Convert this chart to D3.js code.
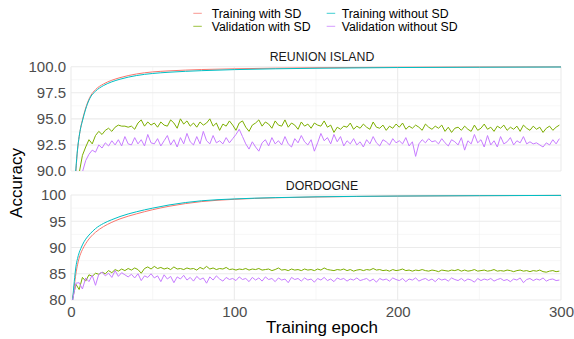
<!DOCTYPE html>
<html>
<head>
<meta charset="utf-8">
<script src="https://cdn.jsdelivr.net/npm/d3@7"></script>
<style>
  html, body { margin: 0; padding: 0; background: #ffffff; }
  svg { display: block; font-family: "Liberation Sans", Arial, Helvetica, sans-serif; }
</style>
</head>
<body>
<svg id="chart" width="574" height="339"></svg>
<script>
// ---------------- DATA ----------------
const seriesNames = ["Training with SD", "Validation with SD", "Training without SD", "Validation without SD"];
const seriesColors = ["#F8766D", "#7CAE00", "#00BFC4", "#C77CFF"];
const panelNames = ["REUNION ISLAND", "DORDOGNE"];

const xTicks = [0, 100, 200, 300];
const yTicksReunion = [90, 92.5, 95, 97.5, 100];
const yTicksDordogne = [80, 85, 90, 95, 100];

// training curves sampled at these epochs
const trainEpochs = [1, 2, 3, 4, 5, 6, 7, 8, 10, 12, 15, 20, 25, 30, 40, 50, 60, 80, 100, 125, 150, 200, 250, 300];
const reunionTrainSD =   [84.0, 87.5, 90.0, 92.0, 93.3, 94.2, 94.9, 95.5, 96.5, 97.2, 97.8, 98.35, 98.7, 98.95, 99.3, 99.5, 99.6, 99.73, 99.8, 99.86, 99.9, 99.95, 99.97, 99.98];
const reunionTrainNoSD = [84.2, 87.8, 90.2, 92.1, 93.3, 94.2, 94.8, 95.4, 96.4, 97.1, 97.65, 98.2, 98.55, 98.8, 99.15, 99.35, 99.47, 99.62, 99.72, 99.8, 99.85, 99.92, 99.95, 99.97];
const dordogneTrainSD =   [80.0, 82.6, 85.0, 86.7, 88.0, 88.9, 89.6, 90.2, 91.2, 92.0, 92.9, 94.0, 94.8, 95.45, 96.4, 97.2, 97.85, 98.75, 99.18, 99.47, 99.62, 99.79, 99.87, 99.92];
const dordogneTrainNoSD = [80.0, 83.5, 86.3, 87.9, 89.0, 89.8, 90.5, 91.1, 92.0, 92.7, 93.6, 94.6, 95.3, 95.9, 96.8, 97.5, 98.1, 98.9, 99.25, 99.5, 99.65, 99.8, 99.87, 99.92];

// validation curves at epochs 1, 3, 5, ..., 299
const reunionValSD = [85,88,89.8,91.5,92.3,93.0,92.6,93.4,93.8,93.5,93.9,94.1,93.8,94.2,94.4,94.3,94.3,94.2,94.3,94.0,
94.6,94.9,94.3,94.7,94.4,94.6,94.2,94.7,94.4,94.3,94.9,94.6,94.1,95.0,94.5,94.8,94.3,94.6,94.2,94.7,
94.4,94.6,95.0,94.3,94.6,93.9,94.5,94.3,94.8,94.4,93.9,94.6,94.8,94.2,93.8,94.4,94.6,94.9,94.3,94.7,
94.5,94.1,94.8,94.4,94.3,94.9,94.2,94.6,94.4,94.0,94.7,94.3,94.5,94.1,94.6,94.4,94.3,94.8,94.2,94.4,
93.7,94.2,94.0,94.3,94.2,94.6,94.0,94.3,94.1,94.5,94.2,94.0,94.7,94.2,94.1,94.4,93.9,94.3,94.1,94.5,
94.2,94.6,94.0,94.3,94.1,94.4,94.2,93.9,94.5,94.2,94.0,94.3,94.1,94.4,93.8,94.2,93.7,94.1,94.2,93.9,
94.3,94.0,93.8,94.4,93.9,94.1,94.5,94.0,94.2,93.8,94.3,94.1,94.4,93.9,94.2,94.0,94.3,93.8,94.4,94.1,
93.9,94.3,94.0,94.2,93.7,94.1,94.3,93.9,94.2,94.4];
const reunionValNoSD = [84,86.5,88.5,89.9,91.0,91.6,92.0,91.8,92.5,92.2,92.7,92.4,92.9,92.5,93.0,92.4,93.3,92.6,92.5,93.2,
92.6,93.0,92.4,93.5,92.7,92.6,93.1,92.4,92.9,93.4,92.5,93.0,92.3,93.2,92.6,93.6,92.8,92.5,93.3,92.6,
93.8,92.9,92.6,93.4,92.7,92.9,92.6,93.2,92.7,93.1,93.5,94.0,93.3,92.6,92.1,92.8,92.3,91.9,92.7,93.0,
92.4,93.2,92.6,92.9,92.5,93.3,92.6,92.3,93.1,92.7,93.4,92.8,92.5,93.0,91.9,92.7,93.6,92.9,93.2,92.6,
93.5,92.8,93.3,92.4,92.9,92.6,93.1,92.5,92.8,92.3,93.0,92.6,93.3,92.7,92.4,93.0,92.8,92.5,93.1,92.7,
92.9,92.6,93.2,92.4,92.8,91.4,92.6,93.0,92.7,93.1,92.8,92.9,92.6,93.1,92.7,92.4,93.0,92.8,92.5,93.2,
92.0,92.9,92.6,93.5,92.7,93.0,92.3,93.4,92.5,92.9,92.3,93.3,92.6,92.8,93.2,92.5,92.9,92.7,93.3,92.6,
92.8,92.6,92.7,92.5,92.3,92.7,92.5,93.0,92.6,93.1];
const dordogneValSD = [80.3,83.0,82.0,84.3,83.6,84.8,84.5,85.1,84.9,85.3,85.0,85.6,85.2,85.8,85.5,85.9,85.6,86.0,85.7,86.1,
85.8,85.1,86.0,86.3,85.9,86.4,86.0,86.2,85.9,86.1,85.8,86.3,85.9,86.0,85.8,86.1,85.9,86.0,85.7,86.2,
85.9,86.4,85.9,86.1,85.8,86.0,85.9,86.2,85.8,85.9,85.7,85.9,85.8,86.0,85.7,85.9,85.8,86.0,85.7,85.8,
85.9,85.6,85.8,86.1,85.7,85.8,85.6,85.9,85.7,85.8,85.6,85.9,85.7,85.8,85.6,85.9,85.7,86.1,85.8,85.7,
85.6,85.8,85.7,85.9,85.6,85.8,85.5,85.7,85.8,85.6,85.8,85.7,86.0,85.7,85.8,85.6,85.7,85.5,85.8,85.6,
85.7,85.9,85.6,85.7,85.5,85.7,85.6,85.8,85.6,85.5,85.7,85.6,85.4,85.7,85.6,85.5,85.7,85.6,85.8,85.5,
85.7,85.5,85.6,85.8,85.5,85.6,85.7,85.5,85.6,85.8,85.5,85.6,85.5,85.7,85.6,85.4,85.6,85.7,85.5,85.6,
85.4,85.6,85.5,85.7,85.4,85.3,85.5,85.6,85.4,85.5];
const dordogneValNoSD = [80.0,83.2,83.3,82.1,84.2,83.5,84.7,82.8,84.9,85.3,84.6,85.1,84.3,85.6,84.5,85.2,84.8,84.4,84.9,84.2,
85.0,83.7,84.6,84.3,85.0,84.2,84.6,83.5,84.8,84.0,84.5,83.3,84.4,84.0,84.7,83.8,84.3,83.6,84.5,83.9,
84.2,83.2,84.4,83.8,84.6,84.0,83.6,84.3,83.9,84.1,83.7,84.4,83.9,84.1,83.5,84.3,83.8,84.2,83.6,84.4,
83.9,84.1,83.5,84.2,83.8,84.0,83.3,84.3,83.9,84.1,83.6,84.2,83.8,84.0,83.4,84.1,83.8,84.3,83.7,84.0,
83.5,84.2,83.9,84.1,83.6,84.0,83.8,84.2,83.7,83.9,84.1,83.6,84.0,83.4,84.1,83.8,84.0,83.6,84.2,83.9,
83.7,84.1,83.5,84.0,83.8,84.2,83.6,83.9,84.1,83.7,84.0,83.5,84.1,83.8,84.0,83.6,84.2,83.9,83.7,84.1,
83.6,84.0,83.8,83.4,84.1,83.7,84.0,83.8,84.1,83.6,83.9,84.1,83.7,83.9,83.5,84.0,83.8,84.2,83.3,83.9,
84.1,83.7,84.0,83.8,84.2,83.6,83.9,84.0,83.7,83.8];

// ---------------- LAYOUT ----------------
const svg = d3.select("#chart");
const x = d3.scaleLinear().domain([0, 300]).range([71, 561]);

const panels = [
  { name: panelNames[0], yDomain: [90, 100], yRange: [171, 66.7], ticks: yTicksReunion, fmt: d3.format(".1f"), minor: [91.25, 93.75, 96.25, 98.75], stripY: 60.5,
    train: [reunionTrainSD, reunionTrainNoSD], val: [reunionValSD, reunionValNoSD] },
  { name: panelNames[1], yDomain: [80, 100], yRange: [300, 195], ticks: yTicksDordogne, fmt: d3.format("d"), minor: [82.5, 87.5, 92.5, 97.5], stripY: 190,
    train: [dordogneTrainSD, dordogneTrainNoSD], val: [dordogneValSD, dordogneValNoSD] }
];

const xMinor = [50, 150, 250];

panels.forEach((p, pi) => {
  const y = d3.scaleLinear().domain(p.yDomain).range(p.yRange);
  const g = svg.append("g");
  const top = p.yRange[1], bottom = p.yRange[0];

  g.selectAll(".hminor").data(p.minor).join("line")
    .attr("x1", x.range()[0]).attr("x2", x.range()[1])
    .attr("y1", d => y(d)).attr("y2", d => y(d))
    .attr("stroke", "#f0f0f0").attr("stroke-width", 0.55);
  g.selectAll(".vminor").data(xMinor).join("line")
    .attr("x1", d => x(d)).attr("x2", d => x(d))
    .attr("y1", top).attr("y2", bottom)
    .attr("stroke", "#f0f0f0").attr("stroke-width", 0.55);
  g.selectAll(".hmajor").data(p.ticks).join("line")
    .attr("x1", x.range()[0]).attr("x2", x.range()[1])
    .attr("y1", d => y(d)).attr("y2", d => y(d))
    .attr("stroke", "#ebebeb").attr("stroke-width", 1.07);
  g.selectAll(".vmajor").data(xTicks).join("line")
    .attr("x1", d => x(d)).attr("x2", d => x(d))
    .attr("y1", top).attr("y2", bottom)
    .attr("stroke", "#ebebeb").attr("stroke-width", 1.07);

  const clipId = "clip" + pi;
  svg.append("clipPath").attr("id", clipId).append("rect")
    .attr("x", x.range()[0]).attr("y", top - 1)
    .attr("width", x.range()[1] - x.range()[0]).attr("height", bottom - top + 1);

  const lineGen = d3.line().x(d => x(d[0])).y(d => y(d[1]));
  const lineSmooth = d3.line().x(d => x(d[0])).y(d => y(d[1])).curve(d3.curveMonotoneX);

  const series = [
    { data: trainEpochs.map((e, i) => [e, p.train[0][i]]), color: seriesColors[0], gen: lineSmooth },
    { data: p.val[0].map((v, i) => [1 + 2 * i, v]), color: seriesColors[1], gen: lineGen },
    { data: trainEpochs.map((e, i) => [e, p.train[1][i]]), color: seriesColors[2], gen: lineSmooth },
    { data: p.val[1].map((v, i) => [1 + 2 * i, v]), color: seriesColors[3], gen: lineGen }
  ];
  const lg = g.append("g").attr("clip-path", `url(#${clipId})`);
  series.forEach(s => {
    lg.append("path").datum(s.data)
      .attr("d", s.gen)
      .attr("fill", "none")
      .attr("stroke", s.color)
      .attr("stroke-width", 1)
      .attr("stroke-linejoin", "round");
  });

  const ya = svg.append("g").attr("transform", `translate(${x.range()[0]},0)`)
    .call(d3.axisLeft(y).tickValues(p.ticks).tickFormat(p.fmt).tickSize(0).tickPadding(5));
  ya.select(".domain").remove();
  ya.selectAll("text").attr("font-size", 15).attr("fill", "#4d4d4d")
    .attr("font-family", "Liberation Sans, Arial, sans-serif");

  svg.append("text").attr("x", 322).attr("y", p.stripY)
    .attr("text-anchor", "middle").attr("font-size", 12.3).attr("fill", "#1a1a1a")
    .text(p.name);

  if (pi === 1) {
    const xa = svg.append("g").attr("transform", `translate(0,${bottom})`)
      .call(d3.axisBottom(x).tickValues(xTicks).tickFormat(d3.format("d")).tickSize(0).tickPadding(6));
    xa.select(".domain").remove();
    xa.selectAll("text").attr("font-size", 15).attr("fill", "#4d4d4d")
      .attr("font-family", "Liberation Sans, Arial, sans-serif");
  }
});

svg.append("text").attr("x", 322).attr("y", 332.5)
  .attr("text-anchor", "middle").attr("font-size", 17).attr("fill", "#000")
  .text("Training epoch");
svg.append("text").attr("transform", "translate(22,183) rotate(-90)")
  .attr("text-anchor", "middle").attr("font-size", 17).attr("fill", "#000")
  .text("Accuracy");

const legendPos = [
  { kx: 193.3, tx: 211.7, y: 13.3 },
  { kx: 193.3, tx: 211.7, y: 26.3 },
  { kx: 326.7, tx: 341.7, y: 13.3 },
  { kx: 326.7, tx: 341.7, y: 26.3 }
];
const leg = svg.append("g");
seriesNames.forEach((name, i) => {
  const lp = legendPos[i];
  leg.append("line").attr("x1", lp.kx).attr("x2", lp.kx + 8.5)
    .attr("y1", lp.y).attr("y2", lp.y)
    .attr("stroke", seriesColors[i]).attr("stroke-width", 1).attr("opacity", 0.75);
  leg.append("text").attr("x", lp.tx).attr("y", lp.y + 4.3)
    .attr("font-size", 12.3).attr("fill", "#000").text(name);
});
</script>
</body>
</html>
